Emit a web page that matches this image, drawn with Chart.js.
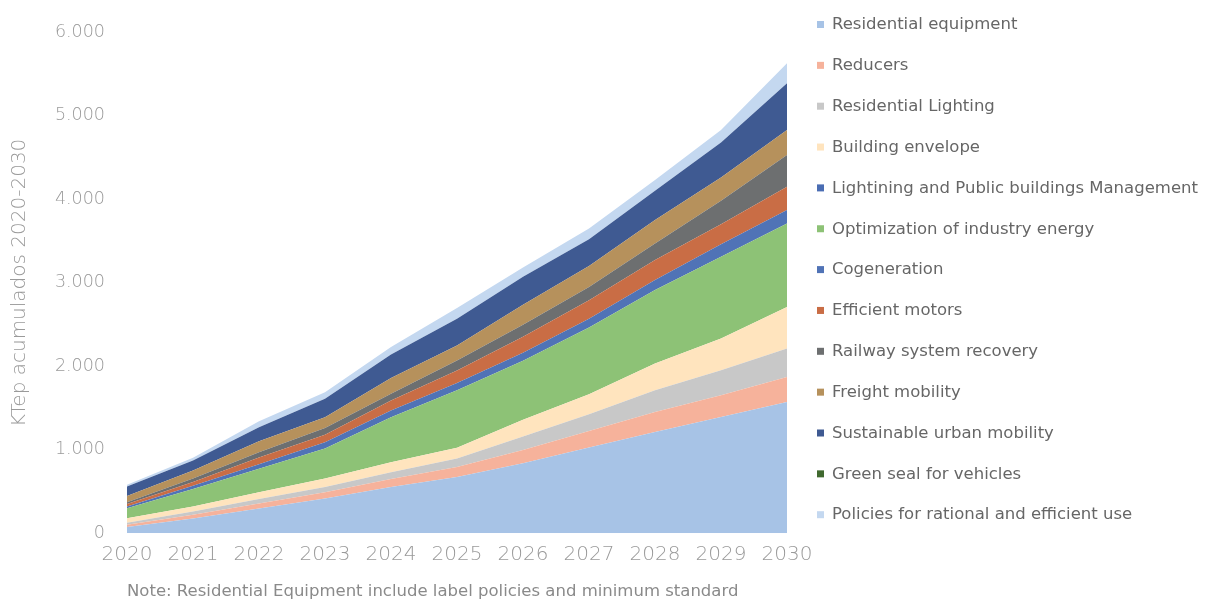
<!DOCTYPE html>
<html>
<head>
<meta charset="utf-8">
<title>Ahorro acumulado 2020-2030</title>
<script src="https://cdn.jsdelivr.net/npm/chart.js@4.4.1/dist/chart.umd.min.js"></script>
<style>
    html, body { margin: 0; padding: 0; background: #fff; }
    #wrap { width: 1209px; height: 602px; }
</style>
</head>
<body>
<div id="wrap"><canvas id="savingsChart"></canvas></div>
<script>
// Cumulative savings per measure (KTep), 2020-2030
const years = ['2020', '2021', '2022', '2023', '2024', '2025', '2026', '2027', '2028', '2029', '2030'];

const residentialEquipment = [75, 175, 296, 415, 555, 674, 838, 1026, 1213, 1393, 1572];
const reducers             = [25, 45, 60, 75, 95, 120, 160, 200, 240, 260, 300];
const residentialLighting  = [25, 40, 55, 65, 80, 100, 160, 200, 260, 300, 340];
const buildingEnvelope     = [55, 60, 80, 100, 120, 130, 200, 240, 320, 380, 500];
const publicBuildings      = [0, 0, 0, 0, 0, 0, 0, 0, 0, 0, 0];
const industryEnergy       = [120, 210, 280, 360, 540, 690, 710, 800, 880, 980, 1000];
const cogeneration         = [20, 40, 55, 75, 80, 85, 95, 105, 120, 150, 160];
const efficientMotors      = [30, 45, 80, 90, 120, 150, 190, 220, 240, 240, 280];
const railwayRecovery      = [20, 40, 65, 80, 80, 120, 145, 160, 200, 280, 380];
const freightMobility      = [75, 95, 130, 130, 190, 180, 240, 250, 280, 280, 300];
const urbanMobility        = [115, 120, 170, 220, 280, 320, 336, 320, 350, 420, 560];
const greenSeal            = [0, 0, 0, 0, 0, 0, 0, 0, 0, 0, 0];
const rationalUse          = [20, 35, 70, 80, 90, 130, 110, 130, 130, 150, 240];

const yTicks = [0, 1000, 2000, 3000, 4000, 5000, 6000];

const series = [
    { label: 'Residential equipment', data: residentialEquipment, color: '#a7c3e6' },
    { label: 'Reducers', data: reducers, color: '#f6b29b' },
    { label: 'Residential Lighting', data: residentialLighting, color: '#c8c8c8' },
    { label: 'Building envelope', data: buildingEnvelope, color: '#ffe4be' },
    { label: 'Lightining and Public buildings Management', data: publicBuildings, color: '#4a6db3' },
    { label: 'Optimization of industry energy', data: industryEnergy, color: '#8dc276' },
    { label: 'Cogeneration', data: cogeneration, color: '#5073b6' },
    { label: 'Efficient motors', data: efficientMotors, color: '#c96d45' },
    { label: 'Railway system recovery', data: railwayRecovery, color: '#6d6f70' },
    { label: 'Freight mobility', data: freightMobility, color: '#b6915c' },
    { label: 'Sustainable urban mobility', data: urbanMobility, color: '#3f5a92' },
    { label: 'Green seal for vehicles', data: greenSeal, color: '#40692f' },
    { label: 'Policies for rational and efficient use', data: rationalUse, color: '#c4d8f0' }
];

function thousands(v) {
    return String(v).replace(/\B(?=(\d{3})+(?!\d))/g, '.');
}

// legend drawn as a plain column to the right of the plot
const sideLegend = {
    id: 'sideLegend',
    afterDraw(chart) {
        const ctx = chart.ctx;
        ctx.save();
        ctx.font = '16.5px "DejaVu Sans"';
        ctx.textBaseline = 'middle';
        chart.data.datasets.forEach((ds, i) => {
            const y = 25 + i * 40.85;
            ctx.fillStyle = ds.backgroundColor;
            ctx.fillRect(817, y - 4, 7, 7);
            ctx.fillStyle = '#666666';
            ctx.fillText(ds.label, 832, y);
        });
        ctx.restore();
    }
};

const ctx = document.getElementById('savingsChart').getContext('2d');
new Chart(ctx, {
    type: 'line',
    data: {
        labels: years,
        datasets: series.map((s, i) => ({
            label: s.label,
            data: s.data,
            backgroundColor: s.color,
            borderColor: s.color,
            borderWidth: 0,
            pointRadius: 0,
            tension: 0,
            fill: i === 0 ? 'origin' : '-1'
        }))
    },
    options: {
        responsive: true,
        maintainAspectRatio: false,
        animation: false,
        layout: {
            padding: { top: 32, right: 422, bottom: 0, left: 0 }
        },
        plugins: {
            legend: { display: false },
            tooltip: { enabled: false },
            title: {
                display: true,
                position: 'bottom',
                align: 'start',
                fullSize: false,
                text: 'Note: Residential Equipment include label policies and minimum standard',
                color: '#8a8a8a',
                font: { family: 'DejaVu Sans', size: 16.5, weight: 'normal' },
                padding: { top: 9, bottom: 0 }
            }
        },
        scales: {
            x: {
                grid: { display: false, drawTicks: false },
                border: { display: false },
                afterFit(scale) { scale.height = 40; },
                ticks: {
                    color: '#9a9a9a',
                    font: { family: 'DejaVu Sans', size: 20, weight: 200 },
                    padding: 10,
                    maxRotation: 0,
                    autoSkip: false
                }
            },
            y: {
                stacked: true,
                min: 0,
                max: 6000,
                grid: { display: false, drawTicks: false },
                border: { display: false },
                afterFit(scale) { scale.width = 127; },
                afterBuildTicks(scale) { scale.ticks = yTicks.map(v => ({ value: v })); },
                ticks: {
                    color: '#9a9a9a',
                    font: { family: 'DejaVu Sans', size: 17.5, weight: 200 },
                    padding: 22,
                    callback: v => thousands(v)
                },
                title: {
                    display: true,
                    text: 'KTep acumulados 2020-2030',
                    color: '#9a9a9a',
                    font: { family: 'DejaVu Sans', size: 20, weight: 200 },
                    padding: { top: 8, bottom: 0 }
                }
            }
        }
    },
    plugins: [sideLegend]
});
</script>
</body>
</html>
